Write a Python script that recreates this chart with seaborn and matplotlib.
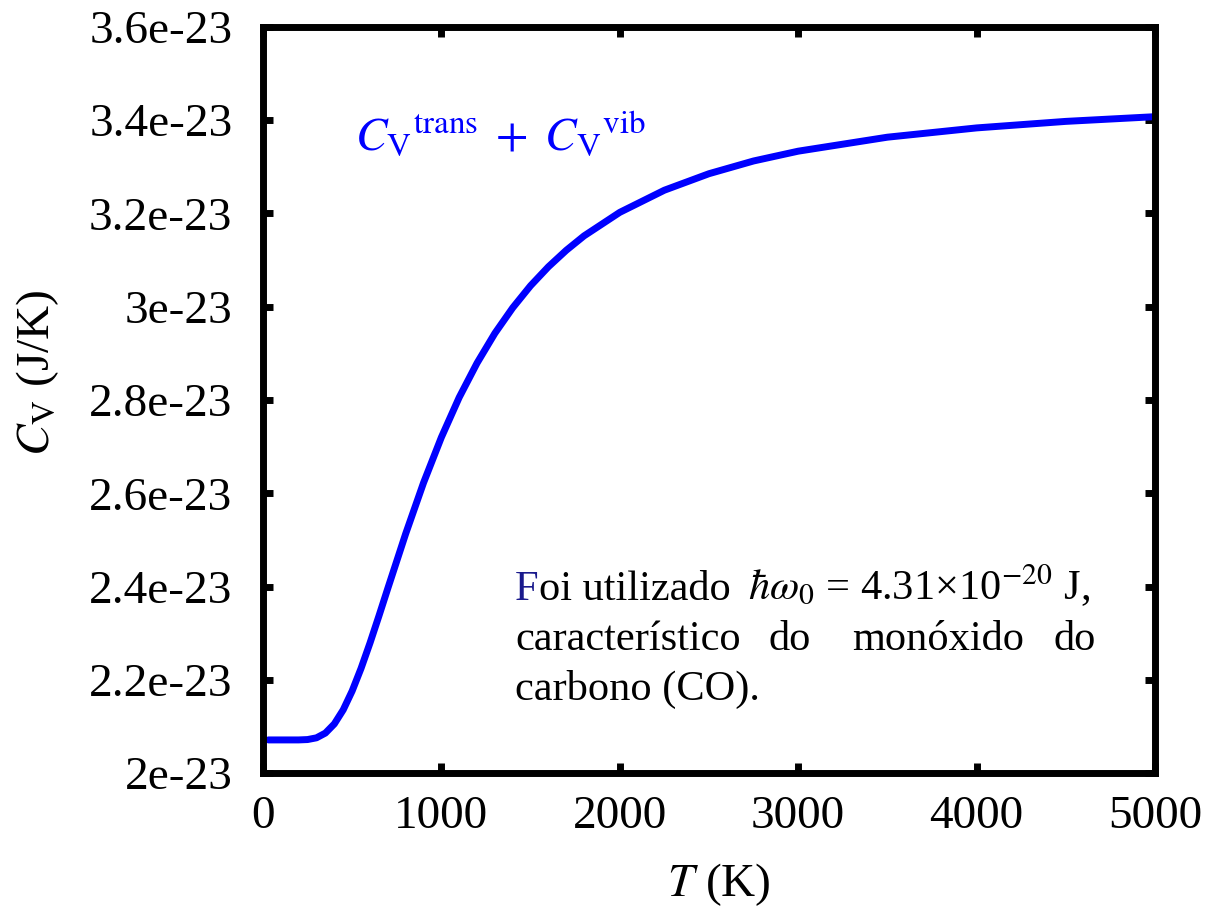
import seaborn as sns
import matplotlib.pyplot as plt
import matplotlib.transforms as mtransforms
import pandas as pd

# Capacidade termica do CO (translacional + vibracional)
temperatura = [30, 100, 150, 200, 250, 300, 350, 400, 450, 500, 550, 600, 650,
               700, 800, 900, 1000, 1100, 1200, 1300, 1400, 1500, 1600, 1700,
               1800, 2000, 2250, 2500, 2750, 3000, 3500, 4000, 4500, 5000]
cv = [2.0710e-23, 2.0710e-23, 2.0710e-23, 2.0710e-23, 2.0718e-23, 2.0755e-23,
      2.0857e-23, 2.1053e-23, 2.1356e-23, 2.1760e-23, 2.2246e-23, 2.2789e-23,
      2.3368e-23, 2.3962e-23, 2.5132e-23, 2.6224e-23, 2.7199e-23, 2.8056e-23,
      2.8792e-23, 2.9431e-23, 2.9978e-23, 3.0451e-23, 3.0857e-23, 3.1210e-23,
      3.1520e-23, 3.2024e-23, 3.2499e-23, 3.2853e-23, 3.3126e-23, 3.3336e-23,
      3.3636e-23, 3.3835e-23, 3.3975e-23, 3.4076e-23]

xticks = [0, 1000, 2000, 3000, 4000, 5000]
yticks = [2.0e-23, 2.2e-23, 2.4e-23, 2.6e-23, 2.8e-23, 3.0e-23, 3.2e-23, 3.4e-23, 3.6e-23]
ytick_labels = ["2e-23", "2.2e-23", "2.4e-23", "2.6e-23", "2.8e-23",
                "3e-23", "3.2e-23", "3.4e-23", "3.6e-23"]

df = pd.DataFrame({"T": temperatura, "Cv": cv})

sns.set_style("white")
plt.rcParams["font.family"] = ["Liberation Serif", "DejaVu Serif"]
plt.rcParams["mathtext.fontset"] = "stix"
plt.rcParams["text.color"] = "black"
plt.rcParams["axes.labelcolor"] = "black"
plt.rcParams["xtick.color"] = "black"
plt.rcParams["ytick.color"] = "black"

fig = plt.figure(figsize=(12.14, 9.17), dpi=100)
ax = fig.add_axes([0.2166, 0.157, 0.7348, 0.8136])

sns.lineplot(data=df, x="T", y="Cv", ax=ax, color="#0000ff", linewidth=5)

ax.set_xlim(0, 5000)
ax.set_ylim(2.0e-23, 3.6e-23)
ax.set_xticks(xticks)
ax.set_xticklabels([str(t) for t in xticks])
ax.set_yticks(yticks)
ax.set_yticklabels(ytick_labels)

for s in ax.spines.values():
    s.set_linewidth(5)
    s.set_color("black")

ax.tick_params(direction="in", length=7.5, width=5, bottom=True, left=True,
               top=True, right=True, labelsize=34)
ax.tick_params(axis="y", pad=22)
ax.tick_params(axis="x", pad=16)

ax.set_xlabel(r"$T$ (K)", fontsize=34)
ax.set_ylabel(r"$C_{\rm V}$ (J/K)", fontsize=34)
ax.xaxis.set_label_coords(0.511, -0.118)
ax.yaxis.set_label_coords(-0.226, 0.536)

# rotulo da curva
ax.text(515, 3.3337e-23, r"${C_{\rm V}}^{\rm trans}\;+\;{C_{\rm V}}^{\rm vib}$",
        color="#0000ff", fontsize=34, va="baseline", ha="left")

# nota sobre o parametro usado
fs = 30.5
x0 = 1413
x1 = 4669
y1, y2, y3 = 2.3711e-23, 2.2638e-23, 2.1566e-23

tF = ax.text(x0, y1, "F", fontsize=fs, color="#1a1a8c", va="baseline", ha="left")
fig.canvas.draw()
wF = tF.get_window_extent(fig.canvas.get_renderer()).width
off = mtransforms.offset_copy(ax.transData, fig=fig, x=wF * 72 / fig.dpi, units="points")
ax.text(x0, y1, "oi utilizado", fontsize=fs, va="baseline", ha="left", transform=off)
ax.text(2719, y1, r"$\hbar\omega_0$ = 4.31×10$^{-20}$ J,", fontsize=fs,
        va="baseline", ha="left")

ax.text(x0, y2, "característico", fontsize=fs, va="baseline", ha="left")
ax.text(2954, y2, "do", fontsize=fs, va="baseline", ha="center")
ax.text(3784, y2, "monóxido", fontsize=fs, va="baseline", ha="center")
ax.text(x1, y2, "do", fontsize=fs, va="baseline", ha="right")

ax.text(x0, y3, "carbono (CO).", fontsize=fs, va="baseline", ha="left")

fig.savefig("out.png", dpi=100)
